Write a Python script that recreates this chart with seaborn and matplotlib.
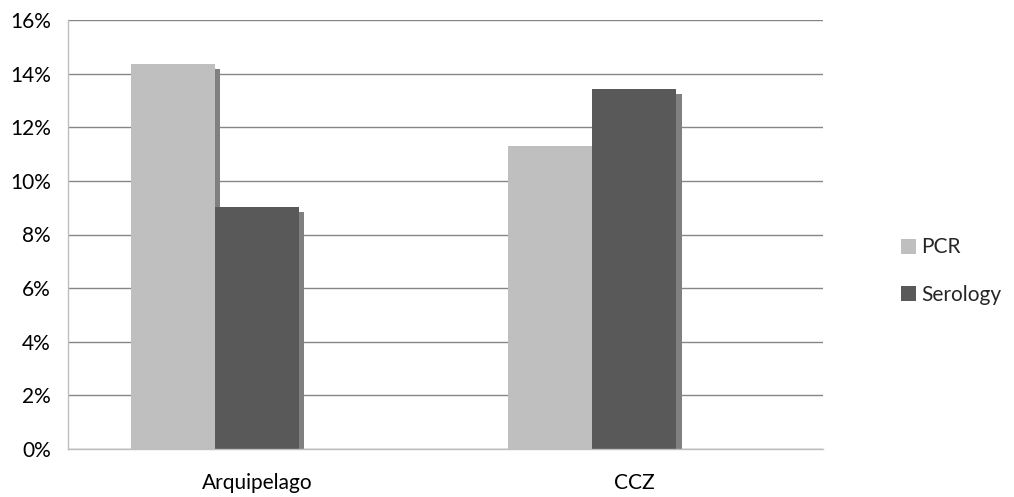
import matplotlib
matplotlib.use("Agg")
import matplotlib.pyplot as plt
import matplotlib.patheffects as pe
from matplotlib.patches import Patch
from matplotlib.ticker import FixedLocator, PercentFormatter
import pandas as pd
import seaborn as sns

# Prevalence by detection method
regions = ["Arquipelago", "CCZ"]
methods = ["PCR", "Serology"]
pcr = [14.36, 11.30]
serology = [9.03, 13.43]
colors = {"PCR": "#BFBFBF", "Serology": "#595959", "Both": "#FFFFFF"}

df = pd.DataFrame({
    "region": regions * 2,
    "method": ["PCR"] * len(regions) + ["Serology"] * len(regions),
    "value": pcr + serology,
})

sns.set_style("white")
plt.rcParams["font.family"] = ["Lato", "DejaVu Sans"]

fig = plt.figure(figsize=(10.14, 4.97), dpi=100)
ax = fig.add_axes([68 / 1014, 48 / 497, 755 / 1014, 429 / 497])

# three slots per category; the third series is empty
sns.barplot(data=df, x="region", y="value", hue="method",
            hue_order=["PCR", "Serology", "Both"], palette=colors,
            width=0.6675, linewidth=0, saturation=1, errorbar=None,
            legend=False, ax=ax)

for bar in ax.patches:
    bar.set_path_effects([
        pe.SimplePatchShadow(offset=(3.8, -3.6), shadow_rgbFace="#808080", alpha=1.0),
        pe.Normal(),
    ])

ax.set_xlim(-0.5, 1.5)
ax.set_ylim(0, 16)
ax.set_yticks(range(0, 17, 2))
ax.yaxis.set_major_formatter(PercentFormatter(decimals=0))
ax.set_axisbelow(True)
ax.yaxis.grid(True, color="#868686", linewidth=1)
ax.xaxis.grid(False)

for side in ("top", "right"):
    ax.spines[side].set_visible(False)
for side in ("left", "bottom"):
    ax.spines[side].set_color("#BEBEBE")
    ax.spines[side].set_linewidth(1)

ax.set_xlabel("")
ax.set_ylabel("")
ax.tick_params(axis="y", direction="out", length=4.3, width=1, color="#868686",
               pad=8, labelsize=15, labelcolor="#000000")
ax.tick_params(axis="x", which="major", length=0, pad=17, labelsize=15,
               labelcolor="#000000")
ax.xaxis.set_minor_locator(FixedLocator([-0.5, 0.5, 1.5]))
ax.tick_params(axis="x", which="minor", direction="out", length=4.3, width=1,
               color="#BEBEBE")

handles = [Patch(facecolor=colors[m], edgecolor="none", label=m) for m in methods]
fig.legend(handles=handles, loc="center left", bbox_to_anchor=(882 / 1014, 226 / 497),
           frameon=False, fontsize=15, handlelength=0.75, handleheight=0.75,
           handletextpad=0.25, labelspacing=1.3)

fig.savefig("out.png", dpi=100)
